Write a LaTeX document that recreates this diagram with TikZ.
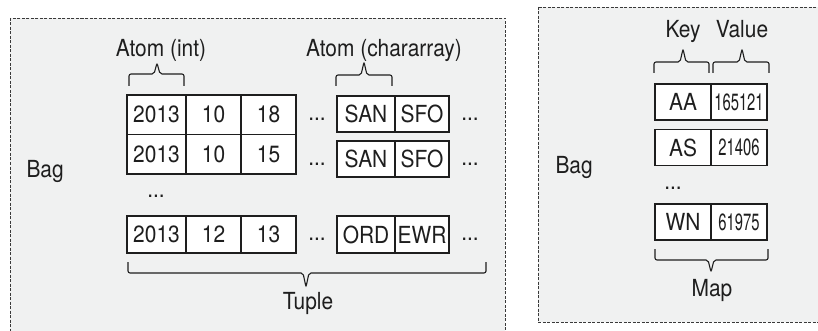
\documentclass[tikz,border=0pt]{standalone}
\usepackage{fontspec}
\setmainfont{TeX Gyre Heros}[FakeStretch=0.89]
\newfontfamily\narrowfont{TeX Gyre Heros}[FakeStretch=0.63]
\definecolor{bagfill}{HTML}{F0F1F1}
\definecolor{bagline}{HTML}{3A3A3A}
\definecolor{ink}{HTML}{1E1E1E}

\begin{document}
\begin{tikzpicture}[x=1pt, y=-1pt, font=\fontsize{23.5}{26}\selectfont, text=ink,
  bag/.style={draw=bagline, fill=bagfill, line width=0.8pt, dash pattern=on 3pt off 1.5pt},
  cell/.style={draw=ink, fill=white, inner sep=0pt, minimum width=#1},
  brk/.style={draw=ink, line width=1.1pt, rounded corners=2pt}]
  \useasboundingbox (0,0) rectangle (818,331);
  % the two bags
  \draw[bag] (10,18) rectangle (505,345);
  \draw[bag] (538,7) rectangle (830,322);
  \node[anchor=base west] (bagL) at (23,177) {Bag};
  \node[anchor=base west] (bagR) at (552,173) {Bag};

  % tuples: int atoms
  \foreach \r/\y/\h/\lw/\a/\b/\c in {1/114.75/39.5/1.8/2013/10/18,
      2/154.25/39.5/1.8/2013/10/15, 3/234.5/37/1.1/2013/12/13} {
    \node[cell=59pt, minimum height=\h pt, line width=\lw pt] (t\r a) at (156.5,\y) {\a};
    \node[cell=55pt, minimum height=\h pt, line width=\lw pt] (t\r b) at (213.5,\y) {\b};
    \node[cell=55pt, minimum height=\h pt, line width=\lw pt] (t\r c) at (268.5,\y) {\c};
  }
  % tuples: chararray atoms
  \foreach \r/\y/\h/\d/\e in {1/114/36/SAN/SFO, 2/159/36/SAN/SFO, 3/234.5/37/ORD/EWR} {
    \node (dl\r) at (317,\y+5) {...};
    \node[cell=58pt, minimum height=\h pt, line width=1.1pt] (s\r a) at (366,\y) {\d};
    \node[cell=54pt, minimum height=\h pt, line width=1.1pt] (s\r b) at (422,\y) {\e};
    \node (dr\r) at (470,\y+5) {...};
  }
  \node (vdots) at (156,196) {...};

  % map: key / value pairs
  \foreach \r/\y/\k/\v in {1/102/AA/165121, 2/147.5/AS/21406, 3/222/WN/61975} {
    \node[cell=56pt, minimum height=36pt, line width=1.1pt] (m\r a) at (683,\y) {\k};
    \node[cell=56pt, minimum height=36pt, line width=1.1pt] (m\r b) at (739,\y) {\narrowfont\v};
  }
  \node (mdots) at (673,188) {...};

  % braces
  \foreach \l/\rr/\t/\e/\m/\p in {129/184/157/86/74/63, 336/392/364/86/75/62,
      654/709/683/73/62/49, 713/769/742/73/62/49,
      128/486/306/262/273/287, 655/768/711/249/260/272}
    \draw[brk] (\l,\e) -- (\l,\m) -- (\t-3,\m) -- (\t,\p) -- (\t+3,\m) -- (\rr,\m) -- (\rr,\e);

  \node[anchor=base] (atomint) at (161,57) {Atom (int)};
  \node[anchor=base] (atomchr) at (384,57) {Atom (chararray)};
  \node[anchor=base] (tuple) at (308,309) {Tuple};
  \node[anchor=base] (key) at (683,38) {Key};
  \node[anchor=base] (value) at (742,38) {Value};
  \node[anchor=base] (map) at (712,296) {Map};
\end{tikzpicture}
\end{document}
